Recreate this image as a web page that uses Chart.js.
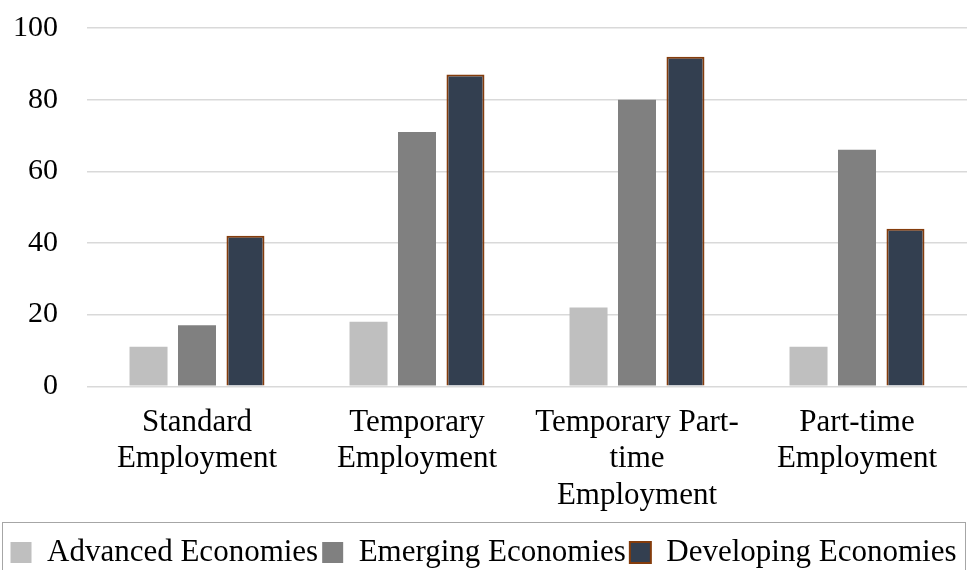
<!DOCTYPE html>
<html>
<head>
<meta charset="utf-8">
<script src="https://cdn.jsdelivr.net/npm/chart.js@4"></script>
<style>
  html, body { margin: 0; padding: 0; background: #fff; }
  #wrap { width: 968px; height: 570px; }
</style>
</head>
<body>
<div id="wrap"><canvas id="chart" width="968" height="570"></canvas></div>
<script>
const categories = [
  ["Standard", "Employment"],
  ["Temporary", "Employment"],
  ["Temporary Part-", "time", "Employment"],
  ["Part-time", "Employment"],
];
const advanced = [11, 18, 22, 11];
const emerging = [17, 71, 80, 66];
const developing = [42, 87, 92, 44];
const yTicks = [0, 20, 40, 60, 80, 100];

const serif = '"Liberation Serif", "Times New Roman", serif';


const legendFrame = {
  id: "legendFrame",
  afterDraw(chart) {
    const lg = chart.legend;
    const ctx = chart.ctx;
    ctx.save();
    ctx.strokeStyle = "#a6a6a6";
    ctx.lineWidth = 1;
    ctx.strokeRect(2.5, Math.round(lg.top) - 10.5, chart.width - 5, 80);
    ctx.restore();
  },
};

new Chart(document.getElementById("chart"), {
  type: "bar",
  data: {
    labels: categories,
    datasets: [
      { label: "Advanced Economies", data: advanced, backgroundColor: "#bfbfbf", borderWidth: 0 },
      { label: "Emerging Economies", data: emerging, backgroundColor: "#808080", borderWidth: 0 },
      {
        label: "Developing Economies",
        data: developing,
        backgroundColor: "#333f50",
        borderColor: "#843c0c",
        borderWidth: 2,
      },
    ],
  },
  options: {
    responsive: false,
    animation: false,
    layout: { padding: { top: 28, right: 1, left: 0, bottom: -8 } },
    datasets: { bar: { categoryPercentage: 0.661, barPercentage: 0.784 } },
    plugins: {
      tooltip: { enabled: false },
      legend: {
        position: "bottom",
        labels: {
          color: "#000",
          font: { family: serif, size: 31 },
          boxWidth: 21,
          boxHeight: 21,
          padding: 4,
        },
      },
    },
    scales: {
      x: {
        grid: { display: false },
        border: { display: false },
        afterFit: (scale) => {
          scale.height += 9;
        },
        ticks: {
          color: "#000",
          font: { family: serif, size: 31, lineHeight: 1.18 },
          padding: 10,
          maxRotation: 0,
          autoSkip: false,
        },
      },
      y: {
        min: 0,
        max: 100,
        afterBuildTicks: (scale) => {
          scale.ticks = yTicks.map((v) => ({ value: v }));
        },
        afterFit: (scale) => {
          scale.width = 87;
          scale.paddingTop = 0;
          scale.paddingBottom = 0;
        },
        grid: { color: "#d9d9d9", lineWidth: 1.5, drawTicks: false },
        border: { display: false },
        ticks: {
          color: "#000",
          font: { family: serif, size: 30 },
          padding: 29,
        },
      },
    },
  },
  plugins: [legendFrame],
});
</script>
</body>
</html>
